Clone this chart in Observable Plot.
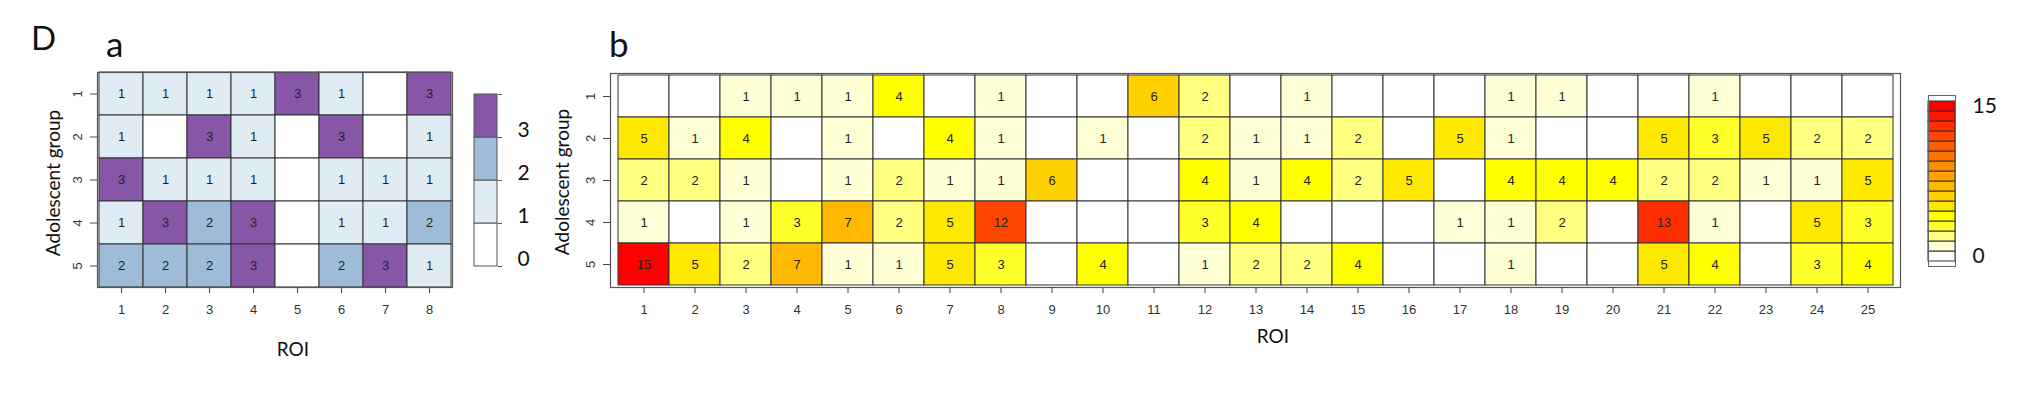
<!DOCTYPE html>
<html>
<head>
<meta charset="utf-8">
<script src="https://cdn.jsdelivr.net/npm/d3@7"></script>
<script src="https://cdn.jsdelivr.net/npm/@observablehq/plot@0.6"></script>
<style>
  html, body { margin: 0; padding: 0; background: #fff; }
  #root { position: relative; width: 2026px; height: 393px; overflow: hidden; background: #fff; }
  #root > svg { position: absolute; top: 0; margin: 0; max-width: none !important; }
  #root svg { background: transparent; }
</style>
</head>
<body>
<div id="root"></div>
<script>
// ---------- Data ----------
const groups = [1, 2, 3, 4, 5];
const roiA = [1, 2, 3, 4, 5, 6, 7, 8];
const roiB = d3.range(1, 26);

// Panel a: counts per adolescent group (rows 1..5) and ROI (1..8)
const countsA = [
  [1, 1, 1, 1, 3, 1, 0, 3],
  [1, 0, 3, 1, 0, 3, 0, 1],
  [3, 1, 1, 1, 0, 1, 1, 1],
  [1, 3, 2, 3, 0, 1, 1, 2],
  [2, 2, 2, 3, 0, 2, 3, 1]
];

// Panel b: counts per adolescent group (rows 1..5) and ROI (1..25)
const countsB = [
  [0, 0, 1, 1, 1, 4, 0, 1, 0, 0, 6, 2, 0, 1, 0, 0, 0, 1, 1, 0, 0, 1, 0, 0, 0],
  [5, 1, 4, 0, 1, 0, 4, 1, 0, 1, 0, 2, 1, 1, 2, 0, 5, 1, 0, 0, 5, 3, 5, 2, 2],
  [2, 2, 1, 0, 1, 2, 1, 1, 6, 0, 0, 4, 1, 4, 2, 5, 0, 4, 4, 4, 2, 2, 1, 1, 5],
  [1, 0, 1, 3, 7, 2, 5, 12, 0, 0, 0, 3, 4, 0, 0, 0, 1, 1, 2, 0, 13, 1, 0, 5, 3],
  [15, 5, 2, 7, 1, 1, 5, 3, 0, 4, 0, 1, 2, 2, 4, 0, 0, 1, 0, 0, 5, 4, 0, 3, 4]
];

// Legend levels and tick labels
const levelsA = [0, 1, 2, 3];
const legendTicksA = [0, 1, 2, 3];
const levelsB = d3.range(0, 16);
const legendTicksB = [0, 15];

// Palettes
const paletteA = ["#ffffff", "#e0ecf4", "#9ebcda", "#8856a7"];
const paletteB = ["#ffffff", "#ffffd5", "#ffff80", "#ffff2a", "#ffff00", "#ffe800", "#ffd100", "#ffb900",
                  "#ffa200", "#ff8b00", "#ff7400", "#ff5d00", "#ff4600", "#ff2e00", "#ff1700", "#ff0000"];

// ---------- Build tables ----------
function table(counts, rois) {
  const out = [];
  counts.forEach((row, i) => row.forEach((v, j) => out.push({g: groups[i], r: rois[j], v})));
  return out;
}
const cellsA = table(countsA, roiA);
const cellsB = table(countsB, roiB);

const root = document.getElementById("root");
const tickFont = "'Liberation Sans', Arial, sans-serif";
const titleFont = "Lato, 'Open Sans', sans-serif";

function place(el, left) {
  el.style.left = left + "px";
  el.style.position = "absolute";
  el.style.top = "0px";
  el.style.maxWidth = "none";
  root.appendChild(el);
}

function heatmap(cells, rois, palette, levels, w, ml, mr, mt) {
  return Plot.plot({
    width: w, height: 393,
    marginLeft: ml, marginRight: mr, marginTop: mt, marginBottom: 106,
    style: {fontFamily: tickFont, fontSize: "13px", color: "#333", background: "transparent"},
    x: {type: "band", domain: rois, padding: 0},
    y: {type: "band", domain: groups, padding: 0},
    color: {type: "ordinal", domain: levels, range: palette},
    marks: [
      Plot.cell(cells, {x: "r", y: "g", fill: "v", stroke: "#333", strokeWidth: 1, inset: 0}),
      Plot.text(cells.filter(d => d.v > 0), {x: "r", y: "g", text: d => String(d.v), fill: "#222", fontSize: 13}),
      Plot.frame({stroke: "#555", strokeWidth: 1.2}),
      Plot.axisX({tickSize: 6, tickPadding: 11, label: null, stroke: "#444", fill: "#333"}),
      Plot.axisY({tickSize: 7, tickPadding: 9, tickRotate: -90, label: null, stroke: "#444", fill: "#333"})
    ]
  });
}

// Panel a heatmap: frame x 97..452
place(heatmap(cellsA, roiA, paletteA, levelsA, 470, 97, 18, 72), 0);

// Legend a: box x 474..497, y 94..266
place(Plot.plot({
  width: 100, height: 393,
  marginLeft: 14, marginRight: 63, marginTop: 94, marginBottom: 127,
  style: {fontFamily: titleFont, fontSize: "21px", color: "#111", background: "transparent"},
  x: {domain: [0, 1], axis: null},
  y: {domain: [0, 4]},
  color: {type: "ordinal", domain: levelsA, range: paletteA},
  marks: [
    Plot.rect(levelsA, {x1: 0, x2: 1, y1: d => d, y2: d => d + 1, fill: d => d, stroke: "#555", strokeWidth: 1}),
    Plot.axisY({anchor: "right", ticks: [0, 1, 2, 3, 4], tickSize: 4, tickFormat: () => "", label: null, stroke: "#555"}),
    Plot.axisY({anchor: "right", ticks: legendTicksA, tickSize: 0, tickPadding: 20, dy: -7, label: null,
                tickFormat: d => String(d), fill: "#111", fontSize: 21})
  ]
}), 460);

// Panel b heatmap: frame x 610..1900
place(heatmap(cellsB, roiB, paletteB, levelsB, 1350, 50, 10, 73), 560);

// Legend b: box x 1928..1955, y 95..266
place(Plot.plot({
  width: 116, height: 393,
  marginLeft: 18, marginRight: 71, marginTop: 95, marginBottom: 127,
  style: {fontFamily: titleFont, fontSize: "21px", color: "#111", background: "transparent"},
  x: {domain: [0, 1], axis: null},
  y: {type: "band", domain: levelsB.slice().reverse(), padding: 0},
  color: {type: "ordinal", domain: levelsB, range: paletteB},
  marks: [
    Plot.cell(levelsB, {y: d => d, fill: d => d, stroke: "#333", strokeWidth: 1, inset: 0}),
    Plot.frame({stroke: "#666"}),
    Plot.axisY({anchor: "right", ticks: legendTicksB, tickSize: 0, tickPadding: 17, label: null,
                tickFormat: d => String(d), fill: "#111", fontSize: 21})
  ]
}), 1910);

// ---------- Titles and axis labels ----------
const overlay = d3.create("svg")
  .attr("width", 2026).attr("height", 393)
  .style("position", "absolute").style("left", "0px").style("top", "0px")
  .style("pointer-events", "none")
  .style("font-family", titleFont);

const labels = [
  {t: "D", x: 31, y: 50, size: 33, anchor: "start"},
  {t: "a", x: 106, y: 57, size: 35, anchor: "start"},
  {t: "b", x: 609, y: 57, size: 35, anchor: "start"},
  {t: "ROI", x: 293, y: 356, size: 19, anchor: "middle"},
  {t: "ROI", x: 1273, y: 343, size: 19, anchor: "middle"}
];
overlay.selectAll("text.t").data(labels).join("text")
  .attr("class", "t")
  .attr("x", d => d.x).attr("y", d => d.y)
  .attr("font-size", d => d.size)
  .attr("text-anchor", d => d.anchor)
  .attr("fill", "#111")
  .text(d => d.t);

const ylabels = [
  {x: 60, y: 183},
  {x: 569, y: 182}
];
overlay.selectAll("text.y").data(ylabels).join("text")
  .attr("class", "y")
  .attr("transform", d => `translate(${d.x},${d.y}) rotate(-90)`)
  .attr("font-size", 19)
  .attr("text-anchor", "middle")
  .attr("fill", "#111")
  .text("Adolescent group");

root.appendChild(overlay.node());
</script>
</body>
</html>
